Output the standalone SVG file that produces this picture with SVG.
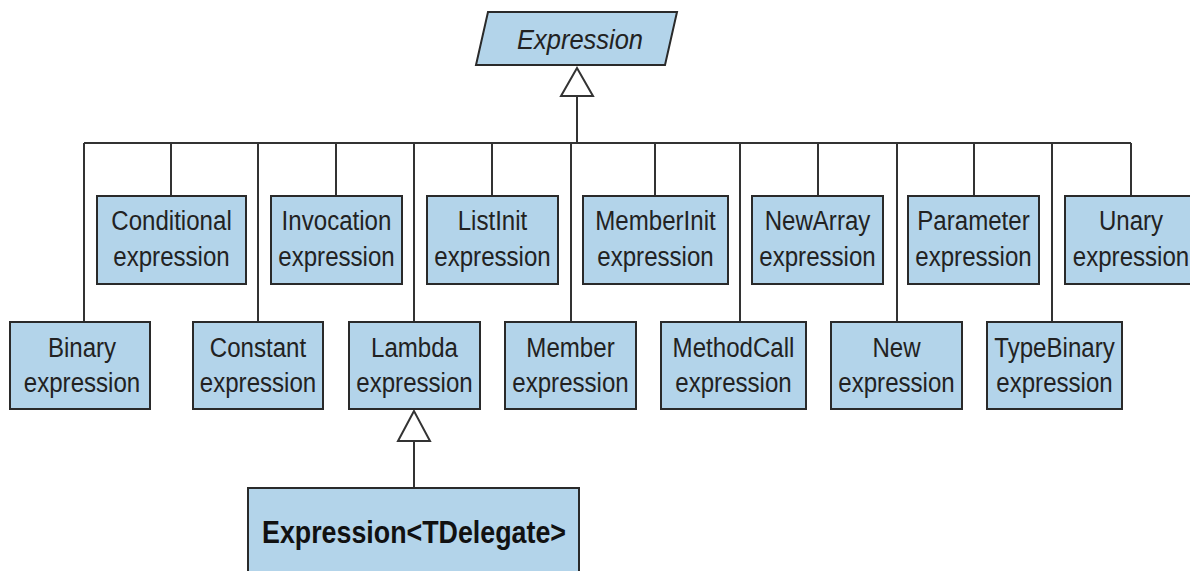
<svg xmlns="http://www.w3.org/2000/svg" width="1190" height="571" viewBox="0 0 1190 571">
<style>
.box{fill:#b3d4ea;stroke:#2a2a2a;stroke-width:2}
.lbl{font-family:"Liberation Sans",Arial,sans-serif;font-size:28px;fill:#222;text-anchor:middle}
.ttl{font-family:"Liberation Sans",Arial,sans-serif;font-size:28px;font-style:italic;fill:#222;text-anchor:middle}
.bold{font-family:"Liberation Sans",Arial,sans-serif;font-size:32px;font-weight:bold;fill:#111;text-anchor:middle}
.ln{stroke:#333;stroke-width:2;fill:none}
.tri{fill:#fff;stroke:#333;stroke-width:2;stroke-linejoin:miter}
</style>
<rect width="1190" height="571" fill="#fff"/>
<g id="connectors">
<path class="ln" d="M84,143H1131M577,96V143M84,143V322M171,143V196M258,143V322M336,143V196M414,143V322M492,143V196M571,143V322M655,143V196M740,143V322M818,143V196M897,143V322M974,143V196M1052,143V322M1131,143V196"/>
<polygon class="tri" points="577,68 561,96 593,96"/>
<path class="ln" d="M414,441V488"/>
<polygon class="tri" points="414,411 398,441 430,441"/>
</g>
<g id="expression">
<polygon class="box" points="488,12 677,12 665,65 476,65"/>
<text class="ttl" transform="translate(580,0) scale(0.91,1)" x="0" y="49">Expression</text>
</g>
<g id="conditional"><rect class="box" x="97" y="196" width="149" height="88"/>
<text class="lbl" transform="translate(171.5,0) scale(0.86,1)"><tspan x="0" y="230">Conditional</tspan><tspan x="0" y="266">expression</tspan></text></g>
<g id="invocation"><rect class="box" x="271" y="196" width="131" height="88"/>
<text class="lbl" transform="translate(336.5,0) scale(0.86,1)"><tspan x="0" y="230">Invocation</tspan><tspan x="0" y="266">expression</tspan></text></g>
<g id="listinit"><rect class="box" x="427" y="196" width="131" height="88"/>
<text class="lbl" transform="translate(492.5,0) scale(0.86,1)"><tspan x="0" y="230">ListInit</tspan><tspan x="0" y="266">expression</tspan></text></g>
<g id="memberinit"><rect class="box" x="583" y="196" width="145" height="88"/>
<text class="lbl" transform="translate(655.5,0) scale(0.86,1)"><tspan x="0" y="230">MemberInit</tspan><tspan x="0" y="266">expression</tspan></text></g>
<g id="newarray"><rect class="box" x="752" y="196" width="131" height="88"/>
<text class="lbl" transform="translate(817.5,0) scale(0.86,1)"><tspan x="0" y="230">NewArray</tspan><tspan x="0" y="266">expression</tspan></text></g>
<g id="parameter"><rect class="box" x="908" y="196" width="131" height="88"/>
<text class="lbl" transform="translate(973.5,0) scale(0.86,1)"><tspan x="0" y="230">Parameter</tspan><tspan x="0" y="266">expression</tspan></text></g>
<g id="unary"><rect class="box" x="1065" y="196" width="131" height="88"/>
<text class="lbl" transform="translate(1131,0) scale(0.86,1)"><tspan x="0" y="230">Unary</tspan><tspan x="0" y="266">expression</tspan></text></g>
<g id="binary"><rect class="box" x="10" y="322" width="140" height="87"/>
<text class="lbl" transform="translate(82,0) scale(0.86,1)"><tspan x="0" y="357">Binary</tspan><tspan x="0" y="392">expression</tspan></text></g>
<g id="constant"><rect class="box" x="193" y="322" width="130" height="87"/>
<text class="lbl" transform="translate(258,0) scale(0.86,1)"><tspan x="0" y="357">Constant</tspan><tspan x="0" y="392">expression</tspan></text></g>
<g id="lambda"><rect class="box" x="349" y="322" width="131" height="87"/>
<text class="lbl" transform="translate(414.5,0) scale(0.86,1)"><tspan x="0" y="357">Lambda</tspan><tspan x="0" y="392">expression</tspan></text></g>
<g id="member"><rect class="box" x="505" y="322" width="131" height="87"/>
<text class="lbl" transform="translate(570.5,0) scale(0.86,1)"><tspan x="0" y="357">Member</tspan><tspan x="0" y="392">expression</tspan></text></g>
<g id="methodcall"><rect class="box" x="661" y="322" width="145" height="87"/>
<text class="lbl" transform="translate(733.5,0) scale(0.86,1)"><tspan x="0" y="357">MethodCall</tspan><tspan x="0" y="392">expression</tspan></text></g>
<g id="new"><rect class="box" x="831" y="322" width="131" height="87"/>
<text class="lbl" transform="translate(896.5,0) scale(0.86,1)"><tspan x="0" y="357">New</tspan><tspan x="0" y="392">expression</tspan></text></g>
<g id="typebinary"><rect class="box" x="987" y="322" width="135" height="87"/>
<text class="lbl" transform="translate(1054.5,0) scale(0.86,1)"><tspan x="0" y="357">TypeBinary</tspan><tspan x="0" y="392">expression</tspan></text></g>
<g id="expression-tdelegate"><rect class="box" x="248" y="488" width="331" height="100"/>
<text class="bold" x="414" y="543" textLength="304" lengthAdjust="spacingAndGlyphs">Expression&lt;TDelegate&gt;</text></g>
</svg>
